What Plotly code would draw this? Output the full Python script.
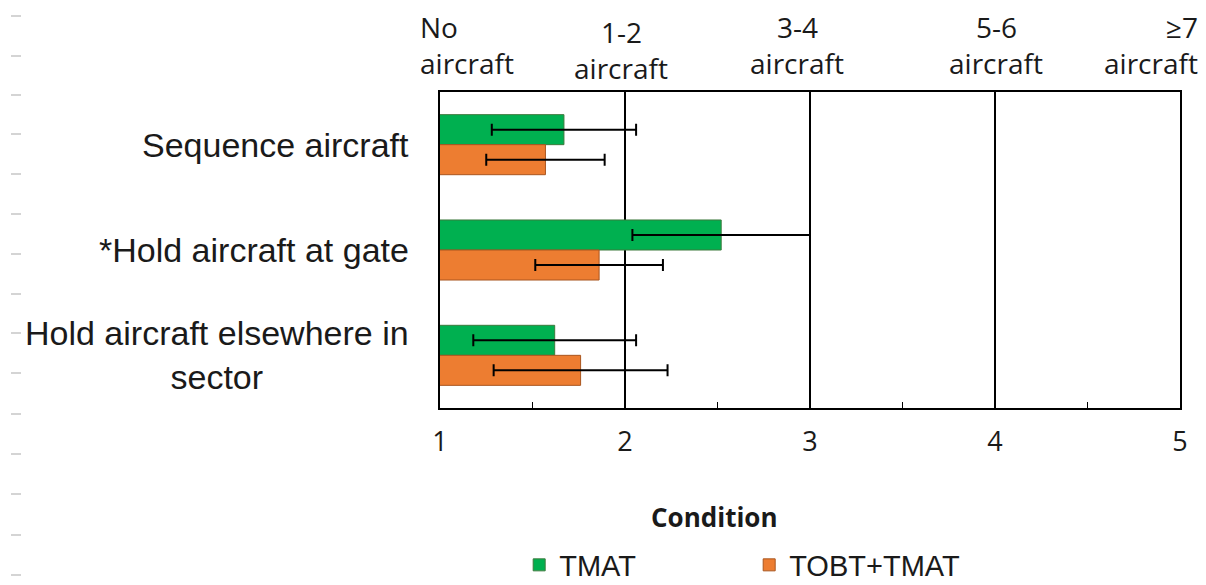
import plotly.graph_objects as go

# tasks (top to bottom) and mean rating per condition
tasks = ['Sequence aircraft', '*Hold aircraft at gate', 'Hold aircraft elsewhere in<br>sector']
tmat_mean = [1.67, 2.52, 1.62]
tmat_err = [0.39, 0.48, 0.44]
tobt_mean = [1.57, 1.86, 1.76]
tobt_err = [0.32, 0.345, 0.47]

scale_vals = [1, 2, 3, 4, 5]
scale_top = ['No', '1-2', '3-4', '5-6', '≥7']
scale_bottom = ['aircraft', 'aircraft', 'aircraft', 'aircraft', 'aircraft']

fig = go.Figure()
fig.add_trace(go.Bar(
    y=tasks, x=tmat_mean, orientation='h', name='TMAT',
    marker=dict(color='#00B050', line=dict(color='#3d7a3d', width=1)),
    error_x=dict(type='data', array=tmat_err, color='black', thickness=2, width=6),
))
fig.add_trace(go.Bar(
    y=tasks, x=tobt_mean, orientation='h', name='TOBT+TMAT',
    marker=dict(color='#ED7D31', line=dict(color='#a9561f', width=1)),
    error_x=dict(type='data', array=tobt_err, color='black', thickness=2, width=6),
))

# page has an 8px body margin, so the figure is drawn 8px in from the edge
# labels of the scale along the top (two rows)
anchors = ['left', 'center', 'center', 'center', 'right']
shifts = [-22, -4, -13, 1, 20]
drop = [0, 5, 0, 0, 0]
lab_font = dict(family='Open Sans', size=28, color='#1a1a1a')
for v, top, bot, a, s, d in zip(scale_vals, scale_top, scale_bottom, anchors, shifts, drop):
    fig.add_annotation(x=v, y=1, xref='x', yref='paper', text=bot, showarrow=False,
                       xanchor=a, yanchor='middle', xshift=s, yshift=92 - 63 - d,
                       font=lab_font)
    fig.add_annotation(x=v, y=1, xref='x', yref='paper', text=top, showarrow=False,
                       xanchor=a, yanchor='middle', xshift=s, yshift=92 - 27 - d,
                       font=lab_font)

# task labels on the left, centred lines
for t in tasks:
    fig.add_annotation(x=0, y=t, xref='paper', yref='y', text=t, showarrow=False,
                       xanchor='right', yanchor='middle', align='center', xshift=-29,
                       font=dict(family='Liberation Sans', size=34, color='#1a1a1a'))

fig.add_annotation(x=(714 - 440) / 740, y=-(517 - 408) / 316, xref='paper', yref='paper',
                   text='<b>Condition</b>', showarrow=False, yanchor='middle',
                   font=dict(family='Open Sans', size=26, color='#1a1a1a'))

# faint ruler marks at the left edge of the picture
shapes = []
for py in [16, 56, 95, 134, 174, 214, 254, 294, 333, 373, 414, 454, 494, 535, 575]:
    yp = (408 - py) / 316
    shapes.append(dict(type='line', xref='paper', yref='paper',
                       x0=(11 - 440) / 740, x1=(21 - 440) / 740, y0=yp, y1=yp,
                       line=dict(color='#d4d4d4', width=2)))

fig.update_layout(
    width=1198, height=577,
    margin=dict(l=432, r=26, t=84, b=177),
    plot_bgcolor='white', paper_bgcolor='white',
    barmode='group', bargap=0.43, bargroupgap=0,
    shapes=shapes,
    showlegend=True,
    legend=dict(orientation='h', x=0.107, y=(585 - 565) / 577, xanchor='left',
                yanchor='middle', yref='container',
                entrywidth=185, entrywidthmode='pixels', traceorder='normal',
                font=dict(family='Liberation Sans', size=29, color='#1a1a1a')),
    xaxis=dict(range=[1, 5], tickvals=scale_vals, ticks='', showgrid=True,
               gridcolor='black', gridwidth=2, showline=True, linecolor='black',
               linewidth=2, mirror=True, zeroline=False, ticklabelstandoff=9,
               tickfont=dict(family='Open Sans', size=27, color='#1a1a1a'),
               minor=dict(tickvals=[1.5, 2.5, 3.5, 4.5], ticks='inside', ticklen=6,
                          tickcolor='black', tickwidth=1, showgrid=False)),
    yaxis=dict(autorange='reversed', showticklabels=False, ticks='', showgrid=False,
               showline=True, linecolor='black', linewidth=2, mirror=True),
)

fig.write_html("out.html")
